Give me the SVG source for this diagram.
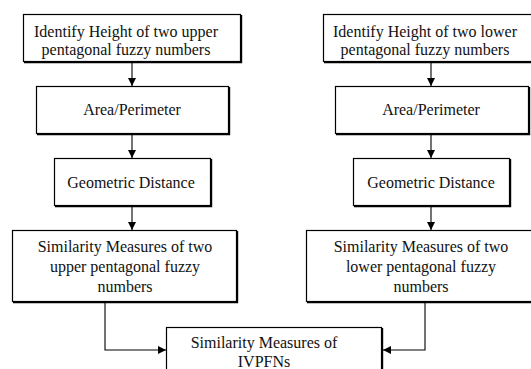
<svg xmlns="http://www.w3.org/2000/svg" width="531" height="369" viewBox="0 0 531 369">
<defs>
<style>
.box{fill:#fff;stroke:#000;stroke-width:1.2}
.sh{fill:none;stroke:#000;stroke-width:1.4}
.t{font-family:"Liberation Serif","Times New Roman",serif;font-size:16px;fill:#111;text-anchor:middle}
.c{fill:none;stroke:#000;stroke-width:1.1}
</style>
<marker id="ah" viewBox="0 0 10 10" refX="10" refY="5" markerWidth="8" markerHeight="8" markerUnits="userSpaceOnUse" orient="auto">
<path d="M0,0 L10,5 L0,10 z" fill="#000"/>
</marker>
</defs>
<g id="n1">
<rect class="box" x="23.5" y="14.5" width="217" height="47"/>
<path class="sh" d="M241.5,15 V62.5 H24"/>
<text class="t" x="126" y="37">Identify Height of two upper</text>
<text class="t" x="126" y="55">pentagonal fuzzy numbers</text>
</g>
<g id="n2">
<rect class="box" x="36.5" y="86.5" width="192" height="47"/>
<path class="sh" d="M229.5,87 V134.5 H37"/>
<text class="t" x="132" y="115">Area/Perimeter</text>
</g>
<g id="n3">
<rect class="box" x="54.5" y="158.5" width="156" height="47"/>
<path class="sh" d="M211.5,159 V206.5 H55"/>
<text class="t" x="131" y="188">Geometric Distance</text>
</g>
<g id="n4">
<rect class="box" x="12.5" y="230.5" width="224" height="71"/>
<path class="sh" d="M237.5,231 V302.5 H13"/>
<text class="t" x="125" y="252">Similarity Measures of two</text>
<text class="t" x="125" y="272">upper pentagonal fuzzy</text>
<text class="t" x="125" y="292">numbers</text>
</g>
<g id="n5">
<rect class="box" x="323.5" y="14.5" width="212" height="47"/>
<path class="sh" d="M324,62.5 H536"/>
<text class="t" x="425" y="37">Identify Height of two lower</text>
<text class="t" x="425" y="55">pentagonal fuzzy numbers</text>
</g>
<g id="n6">
<rect class="box" x="335.5" y="86.5" width="193" height="47"/>
<path class="sh" d="M529.5,87 V134.5 H336"/>
<text class="t" x="431" y="115">Area/Perimeter</text>
</g>
<g id="n7">
<rect class="box" x="353.5" y="158.5" width="156" height="47"/>
<path class="sh" d="M510.5,159 V206.5 H354"/>
<text class="t" x="431" y="188">Geometric Distance</text>
</g>
<g id="n8">
<rect class="box" x="306.5" y="230.5" width="230" height="71"/>
<path class="sh" d="M307,302.5 H537"/>
<text class="t" x="421" y="252">Similarity Measures of two</text>
<text class="t" x="421" y="272">lower pentagonal fuzzy</text>
<text class="t" x="421" y="292">numbers</text>
</g>
<g id="n9">
<rect class="box" x="166.5" y="327.5" width="215" height="50"/>
<path class="sh" d="M382.5,328 V380"/>
<text class="t" x="264" y="348">Similarity Measures of</text>
<text class="t" x="264" y="367">IVPFNs</text>
</g>
<g id="connectors">
<path class="c" d="M132,63 V86" marker-end="url(#ah)"/>
<path class="c" d="M132,135 V158" marker-end="url(#ah)"/>
<path class="c" d="M132,207 V230" marker-end="url(#ah)"/>
<path class="c" d="M431,63 V86" marker-end="url(#ah)"/>
<path class="c" d="M431,135 V158" marker-end="url(#ah)"/>
<path class="c" d="M431,207 V230" marker-end="url(#ah)"/>
<path class="c" d="M105,303 V350 H166" marker-end="url(#ah)"/>
<path class="c" d="M425,303 V350 H383" marker-end="url(#ah)"/>
</g>
</svg>
